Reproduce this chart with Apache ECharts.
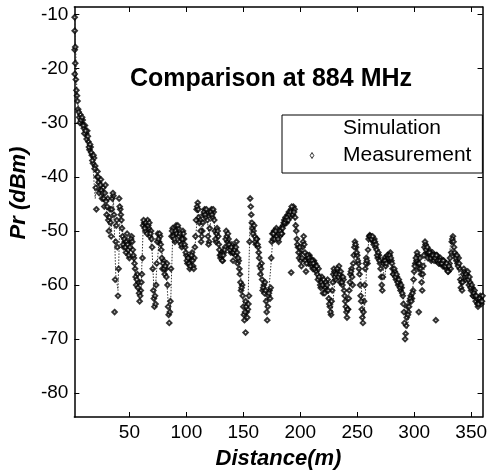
<!DOCTYPE html>
<html>
<head>
<meta charset="utf-8">
<script src="https://cdn.jsdelivr.net/npm/echarts@6/dist/echarts.min.js"></script>
<style>
html,body{margin:0;padding:0;background:#fff;}
#chart{width:490px;height:475px;}
</style>
</head>
<body>
<div id="chart"></div>
<script>
// ---- data ----
const chartTitle = 'Comparison at 884 MHz';
const seriesNames = ['Simulation', 'Measurement'];
const xTicks = [50, 100, 150, 200, 250, 300, 350];
const yTicks = [-80, -70, -60, -50, -40, -30, -20, -10];

// Measurement pass A: one sample per metre starting at 2 m
const measStartA = 2, measStep = 1;
const measValuesA = [
  -10.5, -22, -25, -27.5, -29, -28.5, -30, -29.5, -31, -30.5,
  -32, -31.5, -33.5, -35, -34.5, -36, -37.5, -36.5, -38, -46,
  -39, -41, -42.5, -40.5, -44, -42, -45.5, -41.5, -47, -44,
  -50, -46, -51, -44, -43.5, -65, -52, -48, -62, -44,
  -46, -48, -51, -53, -52, -54, -50.5, -53.5, -55, -52,
  -51, -53.5, -55, -57, -60, -58, -59.5, -63, -61, -58,
  -49, -48.5, -50, -49, -48, -49.5, -51, -50, -53, -61,
  -64, -63.5, -56, -50.5, -52, -51, -53.5, -57, -55.5, -58,
  -57, -56, -64, -67, -63, -51, -49.5, -50.5, -52, -49,
  -50.5, -49.5, -52, -51, -53, -50, -51.5, -53, -54.5, -56,
  -55, -57, -55.5, -54, -56.5, -55, -51, -46, -44.8, -47.5,
  -48, -52, -50, -47, -46, -47.5, -46.5, -51, -52, -47,
  -46, -47.5, -46.5, -50, -52, -49.5, -51, -53.5, -55, -54,
  -55.5, -54, -53, -50, -52, -51.5, -53, -54, -52.5, -55.5,
  -53, -54.5, -52, -56, -55.5, -58, -61, -60, -64, -66.5,
  -63, -65, -64.5, -62, -44, -47, -49.5, -50, -51, -52.5,
  -51.5, -53, -55, -58, -56, -61, -60, -59.5, -63, -66.5,
  -62, -61, -60.5, -52, -51.5, -50, -51, -49.5, -50.5, -52,
  -51, -49.5, -50.5, -49, -48, -47.5, -48.5, -47, -46.5, -47.5,
  -46, -46.5, -45.5, -46, -49, -51.5, -53, -55, -54, -56.5,
  -53, -51, -54, -57.5, -55, -56, -54.5, -55, -56.5, -57,
  -55.5, -56, -57.5, -58, -57, -59, -60.5, -58.5, -61.5, -60,
  -60.5, -61, -59, -62.5, -64, -65.5, -61, -58, -57.5, -59,
  -58, -57.5, -56.5, -59.5, -58.5, -60, -59, -62, -64, -66,
  -64.5, -61, -58, -57, -60, -54.5, -52, -53, -54.5, -56,
  -58, -62, -64.5, -67, -63, -57, -55, -56, -51.5, -50.8,
  -51, -51.5, -52, -51.5, -53, -53.5, -55, -54.5, -56, -58.5,
  -61, -56, -55, -56.5, -55.5, -54.5, -55.5, -54, -55.5, -57,
  -58, -57.5, -59, -58.5, -60, -59.5, -61, -60.5, -62, -65,
  -70, -67.5, -64, -65, -63, -62, -62.5, -61, -57.5, -56,
  -55.5, -54.5, -57, -55, -58, -61, -56.5, -53, -52.5, -54,
  -55, -53.5, -54.5, -55.5, -54, -55, -54.5, -55.5, -54.5, -55,
  -56, -55, -55.5, -56.5, -55.5, -56, -57, -56.5, -57.5, -56,
  -57, -52, -51, -53, -54.5, -55.5, -56, -55, -57, -60.5,
  -61, -58, -57.5, -59, -58, -57.5, -60, -59.5, -61, -60.5,
  -62, -61, -63, -62.5, -64, -63, -62, -63.5, -62
];
// Measurement pass B: samples at the half-metre positions starting at 2.5 m
const measStartB = 2.5;
const measValuesB = [
  -16, -24, -26, -28, -30, -29.5, -29, -30.5, -32, -31.5,
  -33, -32.5, -34.5, -34, -35.5, -37, -36, -38.5, -42, -40,
  -40, -43, -41.5, -42.5, -43, -44, -43, -44.5, -45.5, -48,
  -47.5, -48.5, -46, -43, -47, -59, -49, -53, -57, -45.5,
  -47, -49.5, -52.5, -51.5, -53, -52, -52.5, -54.5, -53, -51.5,
  -52, -54.5, -56, -58.5, -59, -60.5, -61.5, -62, -59.5, -55,
  -48, -49.5, -48.5, -50.5, -49, -48.5, -50.5, -51.5, -57, -62.5,
  -62, -60, -52, -51.5, -50.5, -52.5, -55, -56, -57, -56.5,
  -58.5, -60, -65.5, -65, -57, -50, -51, -51.5, -50, -50.5,
  -49, -51, -50.5, -52.5, -51.5, -50.5, -52.5, -54, -55.5, -55,
  -56, -56.5, -54.5, -55.5, -57, -53, -48, -45.5, -46, -48.5,
  -50, -51, -48.5, -46.5, -47, -46, -48, -52.5, -49.5, -46.5,
  -47, -46, -48, -51.5, -50.5, -50, -52.5, -54.5, -54.5, -55.5,
  -54.5, -53.5, -51.5, -51, -50.5, -52.5, -53.5, -53, -54, -54,
  -53.5, -53, -54, -55, -57, -59.5, -60.5, -62, -65.5, -65,
  -64, -66, -63.5, -52, -45.5, -48.5, -50.5, -49, -52, -51.5,
  -52.5, -54, -56.5, -57, -59, -60.5, -61.5, -61, -65, -64,
  -61.5, -62.5, -55, -50.5, -50.5, -51.5, -50, -51, -51.5, -50.5,
  -50, -50.5, -49.5, -48.5, -48.5, -48, -47.5, -48, -47, -46.5,
  -45.5, -47, -46.5, -47.5, -50, -52.5, -54, -53, -55.5, -55,
  -52, -52.5, -55.5, -56, -54.5, -55, -55.5, -56, -55.5, -56,
  -57, -56.5, -56.5, -59, -58.5, -60, -59.5, -60, -59, -61.5,
  -59.5, -60, -61, -63.5, -65, -63, -59.5, -57, -58.5, -58,
  -57, -58.5, -58, -57.5, -59.5, -58.5, -61, -63, -65, -64.5,
  -62.5, -59.5, -57.5, -58.5, -56, -53, -52.5, -54, -55.5, -57,
  -60, -63, -66, -65, -60, -56, -55.5, -53.5, -51, -51,
  -51.5, -51, -52.5, -52, -52.5, -54.5, -54, -55.5, -57, -60,
  -58.5, -55.5, -55.5, -56, -54.5, -55, -54.5, -55, -56, -58,
  -57, -58.5, -58, -59.5, -59, -60.5, -60, -61.5, -63.5, -67,
  -69, -66, -65.5, -64, -62.5, -63, -61.5, -59, -56.5, -55,
  -54, -56, -56, -57, -59.5, -58, -54.5, -52, -53.5, -53,
  -54, -54, -55, -54.5, -54.5, -55.5, -55, -54.5, -55.5, -56,
  -55.5, -56, -56, -55.5, -56.5, -56.5, -56, -57.5, -56.5, -55,
  -54, -51.5, -52, -54, -55, -54.5, -56.5, -56, -59, -59.5,
  -59.5, -57, -58.5, -58, -58.5, -59, -58.5, -60.5, -60, -62,
  -61.5, -62, -62, -63.5, -63.5, -62.5, -63, -63
];
// isolated measurement points
const measExtraDist = [2, 2, 2.5, 2, 152, 192, 304, 319];
const measExtraVal  = [-13, -16.5, -19, -21, -68.8, -57.7, -65, -66.5];

// Simulation: one sample every 2 m starting at 2 m
const simStart = 2, simStep = 2;
const simValues = [
  -10, -25, -28.5, -29.5, -30.5, -32.5, -35, -36, -38, -44,
  -40, -42, -41, -45, -46, -49, -50, -44, -58, -61,
  -45, -50, -52, -51, -54, -52, -56, -59, -60, -62,
  -50, -49.5, -48.5, -50.5, -54, -63, -57, -52, -53, -56,
  -57, -63, -65, -51, -50, -51, -51.5, -52, -52, -54,
  -55.5, -56, -55, -52, -46, -48, -50, -47, -47, -51,
  -47, -48, -51, -50, -54, -55, -53.5, -51, -53, -53,
  -54, -53, -56, -59, -63, -65, -64, -48, -49, -51,
  -52, -55, -57, -60, -64, -62, -57, -51, -50, -51,
  -50.5, -50, -48.5, -48, -47, -46.5, -46.5, -49, -53, -55,
  -53, -55, -56, -55.5, -56.5, -57, -57.5, -59, -59.5, -60,
  -60.5, -61, -63, -65, -60, -58.5, -58, -58.5, -60, -63,
  -63, -59, -58, -54, -53, -55, -62, -66, -58, -52,
  -51.5, -52, -52, -54, -55, -56, -59, -55, -55, -55.5,
  -58, -58.5, -59.5, -60, -61, -65, -68, -64, -62, -58,
  -55.5, -56, -57, -59, -54, -53, -54.5, -55, -54.5, -55,
  -55.5, -56, -56, -56.5, -57, -52, -53.5, -55.5, -56, -59,
  -60, -58, -58.5, -59, -60, -61, -62, -63, -63, -62
];

// ---- build series data ----
const measDataA = measValuesA.map((v, i) => [measStartA + i * measStep, v])
  .concat(measExtraDist.map((d, i) => [d, measExtraVal[i]]));
const measDataB = measValuesB.map((v, i) => [measStartB + i * measStep, v]);
const simData = simValues.map((v, i) => [simStart + i * simStep, v]);

const FONT = '"Liberation Sans", Arial, Helvetica, sans-serif';
const xMin = 1.7, xMax = 360, yMin = -84.4, yMax = -8.6;

const chart = echarts.init(document.getElementById('chart'), null, {renderer: 'canvas'});
const axisLineStyle = {color: '#000', width: 1.5};
const measMarker = {
  type: 'scatter', name: seriesNames[1], xAxisIndex: 0, yAxisIndex: 0,
  symbol: 'emptyDiamond', symbolSize: 4.5,
  itemStyle: {color: '#000', borderColor: '#000', borderWidth: 1}, z: 3
};
chart.setOption({
  animation: false,
  backgroundColor: '#fff',
  textStyle: {fontFamily: FONT, color: '#000'},
  title: {
    text: chartTitle,
    left: 125, top: 62,
    textStyle: {fontFamily: FONT, fontSize: 25, fontWeight: 'bold', color: '#000'}
  },
  legend: {
    orient: 'vertical',
    left: 282, top: 115,
    padding: [3, 11, 7, 3],
    itemWidth: 52, itemHeight: 6,
    itemGap: 6,
    symbolKeepAspect: true,
    backgroundColor: '#fff',
    borderColor: '#000', borderWidth: 1, borderRadius: 0,
    textStyle: {fontFamily: FONT, fontSize: 21, color: '#000'},
    data: [
      {name: seriesNames[0], itemStyle: {opacity: 0}, lineStyle: {opacity: 0}},
      {name: seriesNames[1], icon: 'path://M5,0L8,5L5,10L2,5Z',
       itemStyle: {color: '#fff', borderColor: '#000', borderWidth: 1}}
    ]
  },
  grid: {left: 74, right: 6, top: 7, bottom: 58, containLabel: false},
  xAxis: [{
    type: 'value', min: xMin, max: xMax, position: 'bottom',
    name: 'Distance(m)', nameLocation: 'middle', nameGap: 31,
    nameTextStyle: {fontFamily: FONT, fontSize: 22, fontWeight: 'bold', fontStyle: 'italic', color: '#000'},
    axisLine: {show: true, lineStyle: axisLineStyle},
    axisTick: {show: true, inside: true, length: 5, customValues: xTicks, lineStyle: {color: '#000'}},
    axisLabel: {show: true, customValues: xTicks, fontFamily: FONT, fontSize: 19, color: '#000', margin: 6},
    splitLine: {show: false}
  }, {
    type: 'value', min: xMin, max: xMax, position: 'top',
    axisLine: {show: true, lineStyle: axisLineStyle},
    axisTick: {show: true, inside: true, length: 5, customValues: xTicks, lineStyle: {color: '#000'}},
    axisLabel: {show: false},
    splitLine: {show: false}
  }],
  yAxis: [{
    type: 'value', min: yMin, max: yMax, position: 'left',
    name: 'Pr (dBm)', nameLocation: 'middle', nameGap: 38, nameRotate: 90,
    nameTextStyle: {fontFamily: FONT, fontSize: 22, fontWeight: 'bold', fontStyle: 'italic', color: '#000', padding: [0, 0, 0, 38]},
    axisLine: {show: true, lineStyle: axisLineStyle},
    axisTick: {show: true, inside: true, length: 5, customValues: yTicks, lineStyle: {color: '#000'}},
    axisLabel: {show: true, customValues: yTicks, fontFamily: FONT, fontSize: 19, color: '#000', margin: 6},
    splitLine: {show: false}
  }, {
    type: 'value', min: yMin, max: yMax, position: 'right',
    axisLine: {show: true, lineStyle: axisLineStyle},
    axisTick: {show: true, inside: true, length: 5, customValues: yTicks, lineStyle: {color: '#000'}},
    axisLabel: {show: false},
    splitLine: {show: false}
  }],
  series: [{
    name: seriesNames[0],
    type: 'line',
    xAxisIndex: 0, yAxisIndex: 0,
    data: simData,
    showSymbol: false,
    symbol: 'none',
    lineStyle: {color: '#333', width: 1, type: [1.5, 1.5]},
    itemStyle: {color: '#333'},
    z: 2
  },
  Object.assign({}, measMarker, {data: measDataA}),
  Object.assign({}, measMarker, {data: measDataB})
  ]
});
</script>
</body>
</html>
